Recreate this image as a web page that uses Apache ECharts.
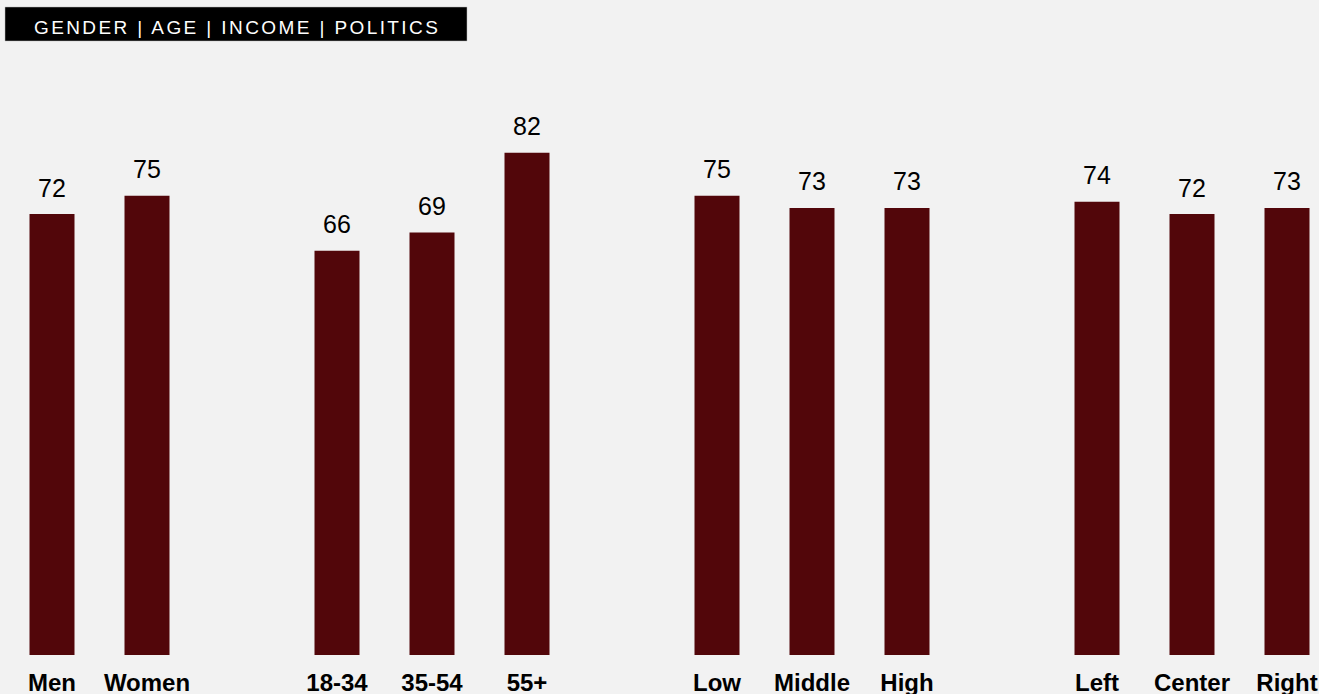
<!DOCTYPE html>
<html>
<head>
<meta charset="utf-8">
<script src="https://cdn.jsdelivr.net/npm/echarts@6/dist/echarts.min.js"></script>
<style>
html,body{margin:0;padding:0;background:#f2f2f2;}
#chart{width:1319px;height:694px;}
#chart text[fill="#fefefe"]{letter-spacing:2.4px;}
</style>
</head>
<body>
<div id="chart"></div>
<script>
const titleText = 'GENDER | AGE | INCOME | POLITICS';
const categories = ['Men','Women','','18-34','35-54','55+','','Low','Middle','High','','Left','Center','Right'];
const values = [72,75,null,66,69,82,null,75,73,73,null,74,72,73];

const chart = echarts.init(document.getElementById('chart'), null, {renderer:'svg'});
chart.setOption({
  backgroundColor:'#f2f2f2',
  animation:false,
  grid:{left:4.5, width:1330, top:42.5, bottom:39, containLabel:false, outerBoundsMode:'none'},
  xAxis:{
    type:'category', data:categories,
    axisLine:{show:false}, axisTick:{show:false}, splitLine:{show:false},
    axisLabel:{interval:0, margin:15, color:'#000', fontFamily:'Liberation Sans, Arial, sans-serif', fontWeight:'bold', fontSize:24}
  },
  yAxis:{type:'value', min:0, max:100, show:false},
  series:[{
    type:'bar', data:values, barWidth:45,
    itemStyle:{color:'#52060a'},
    label:{show:true, position:'top', distance:14, color:'#000', fontFamily:'Liberation Sans, Arial, sans-serif', fontSize:25}
  }],
  graphic:[
    {type:'rect', shape:{x:5, y:7, width:462, height:34}, style:{fill:'#000', stroke:'#bbb', lineWidth:0.5}, z:10},
    {type:'text', x:34, y:27.5, style:{text:titleText, fill:'#fefefe', font:'19px "Liberation Sans", Arial, sans-serif', verticalAlign:'middle', align:'left'}, z:11}
  ]
});
</script>
</body>
</html>
